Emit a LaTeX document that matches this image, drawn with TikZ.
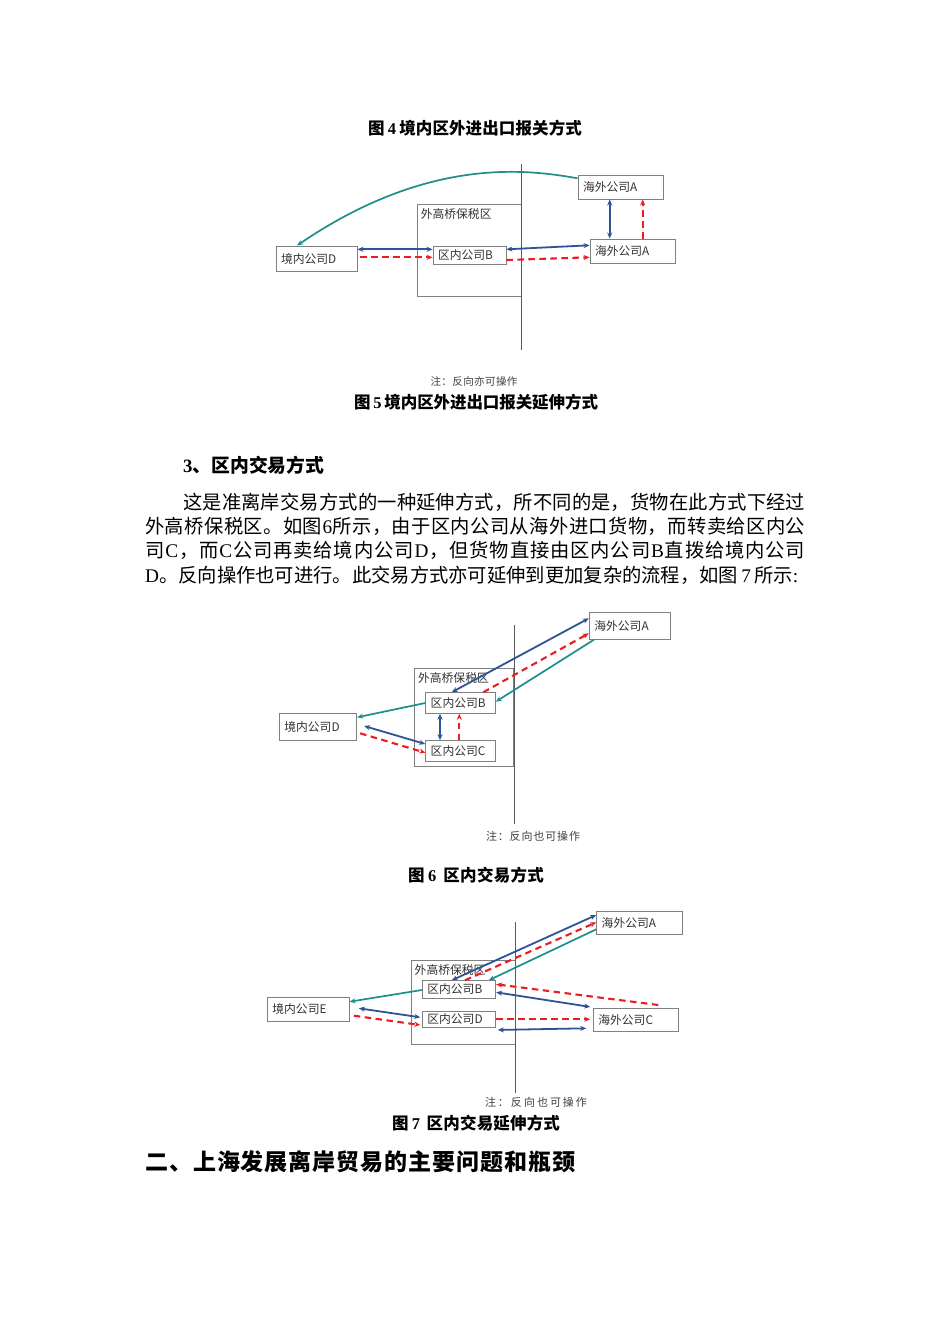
\documentclass[tikz,border=0pt]{standalone}
\usepackage{fontspec}
\setmainfont{Liberation Serif}
\newfontfamily\cjk{Noto Sans CJK SC}
\newfontfamily\lat{Liberation Serif}
\usetikzlibrary{arrows.meta}

\definecolor{linkblue}{RGB}{47,84,150}
\definecolor{linkteal}{RGB}{32,142,140}
\definecolor{linkred}{RGB}{237,28,36}
\definecolor{framegray}{RGB}{128,128,128}

\newcommand\txtbox{\cjk\fontsize{11.8}{13}\selectfont}
\newcommand\txtnote{\cjk\fontsize{10.5}{12}\selectfont}
\newcommand\txtcap{\cjk\bfseries\fontsize{16.5}{19}\selectfont}
\newcommand\txtbody{\cjk\fontsize{19.3}{24}\selectfont}
% spread a row of characters over a fixed width
\def\spreadA#1{\ifx\relax#1\else#1\hskip0pt plus 1fil minus 1fil\expandafter\spreadA\fi}
\newcommand\spreadline[2]{\hbox to #1{\spreadA#2\relax\unskip}}
\newcommand\tgap{\kern3pt}

\begin{document}
\begin{tikzpicture}[x=1pt, y=-1pt,
    firm/.style={draw=framegray, line width=0.9pt, inner xsep=5pt, inner ysep=0pt, align=left, font=\txtbox, text=black!80},
    zone/.style={draw=framegray, line width=0.9pt, inner sep=0pt},
    zonetitle/.style={anchor=north west, inner xsep=4pt, inner ysep=4.5pt, font=\txtbox, text=black!80},
    divider/.style={black!65, line width=0.9pt},
    deal/.style={linkblue, line width=1.8pt, {Stealth[length=6pt,width=5pt]}-{Stealth[length=6pt,width=5pt]}},
    cargo/.style={linkred, line width=2.1pt, dash pattern=on 6.5pt off 4.5pt, -{Stealth[length=6pt,width=5pt]}},
    fund/.style={linkteal, line width=1.7pt, -{Stealth[length=6pt,width=5pt]}},
    remark/.style={inner sep=0pt, font=\txtnote, text=black!75},
    figcap/.style={inner sep=0pt, font=\txtcap},
    bodytext/.style={anchor=west, inner sep=0pt, font=\txtbody}]
\path[use as bounding box, fill=white] (0,0) rectangle (950,1344);

\node (cap4)[figcap] at (475,128) {\spreadline{214pt}{图\tgap{{\lat\bfseries 4}}\tgap 境内区外进出口报关方式}};

% figure 5
\node (zone5)[zone, minimum width=104, minimum height=92] at (469,250) {};
\node (zone5t)[zonetitle] at (zone5.north west) {外高桥保税区};
\draw[divider] (521,164) -- (521,350);
\node (D5)[firm, text width=71pt, minimum height=25] at (316.5,258.5) {境内公司D};
\node (B5)[firm, text width=63pt, minimum height=18] at (469.5,255) {区内公司B};
\node (A5t)[firm, text width=75pt, minimum height=24] at (620.5,187) {海外公司A};
\node (A5b)[firm, text width=75pt, minimum height=24] at (632.5,251) {海外公司A};

\draw[deal] ([yshift=9.2pt]D5.east) -- ([yshift=5.7pt]B5.west);
\draw[cargo] ([xshift=3pt,yshift=1.2pt]D5.east) -- ([yshift=-2.3pt]B5.west);
\draw[deal] ([yshift=5.7pt]B5.east) -- ([yshift=5.7pt]A5b.west);
\draw[cargo] ([yshift=-5pt]B5.east) -- ([yshift=-6.3pt]A5b.west);
\draw[deal] ([xshift=-10.8pt]A5t.south) -- ([xshift=-22.8pt]A5b.north);
\draw[cargo] ([xshift=10.2pt]A5b.north) -- ([xshift=22.2pt]A5t.south);
\draw[fund] ([yshift=8.7pt]A5t.west) .. controls (530,170) and (430,155) .. ([xshift=-19.5pt]D5.north);

\node (note5)[remark] at (474,381) {\spreadline{87pt}{注：反向亦可操作}};
\node (cap5)[figcap] at (476,402) {\spreadline{244pt}{图\tgap{{\lat\bfseries 5}}\tgap 境内区外进出口报关延伸方式}};

% section text
\node (sec3)[bodytext, font=\cjk\bfseries\fontsize{18.8}{22}\selectfont] at (183,465) {{\lat\bfseries 3}、区内交易方式};
\node (par1)[bodytext] at (183,502) {\spreadline{622pt}{这是准离岸交易方式的一种延伸方式，所不同的是，货物在此方式下经过}};
\node (par2)[bodytext] at (145,526) {\spreadline{660pt}{外高桥保税区。如图{{\lat 6}}所示，由于区内公司从海外进口货物，而转卖给区内公}};
\node (par3)[bodytext] at (145,550) {\spreadline{660pt}{司{{\lat C}}，而{{\lat C}}公司再卖给境内公司{{\lat D}}，但货物直接由区内公司{{\lat B}}直拨给境内公司}};
\node (par4)[bodytext] at (145,575) {{\lat D}。反向操作也可进行。此交易方式亦可延伸到更加复杂的流程，如图{\lat\,7\,}所示{\lat :}};

% figure 6
\node (zone6)[zone, minimum width=99, minimum height=97.7] at (463.8,717.2) {};
\node (zone6t)[zonetitle] at (zone6.north west) {外高桥保税区};
\draw[divider] (514,625) -- (514,824);
\node (A6)[firm, text width=71.4pt, minimum height=27] at (630,625.8) {海外公司A};
\node (B6)[firm, text width=59.6pt, minimum height=20.6] at (460.5,703) {区内公司B};
\node (C6)[firm, text width=59.6pt, minimum height=20.6] at (460.5,751) {区内公司C};
\node (D6)[firm, text width=67.4pt, minimum height=26.7] at (318,726.7) {境内公司D};

\draw[deal] ([yshift=7.5pt]A6.west) -- ([xshift=-8.8pt]B6.north);
\draw[cargo] ([xshift=22.8pt]B6.north) -- ([yshift=-7.5pt]A6.west);
\draw[fund] ([xshift=5pt]A6.south west) -- ([yshift=1.3pt]B6.east);
\draw[fund] (B6.west) -- ([yshift=9.4pt]D6.east);
\draw[deal] ([xshift=7pt,yshift=0.7pt]D6.east) -- ([yshift=7pt]C6.west);
\draw[cargo] ([xshift=3pt,yshift=-6.6pt]D6.east) -- ([yshift=-1.7pt]C6.west);
\draw[deal] ([xshift=-20.5pt]B6.south) -- ([xshift=-20.5pt]C6.north);
\draw[cargo] ([xshift=-1.2pt]C6.north) -- ([xshift=-1.2pt]B6.south);

\node (note6)[remark, font=\cjk\fontsize{11}{12}\selectfont] at (533,836.7) {\spreadline{94pt}{注：反向也可操作}};
\node (cap6)[figcap] at (476,875) {\spreadline{136pt}{图\tgap{{\lat\bfseries 6}}\tgap\tgap 区内交易方式}};

% figure 7
\node (zone7)[zone, minimum width=104.7, minimum height=84] at (463.3,1002) {};
\node (zone7t)[zonetitle] at (zone7.north west) {外高桥保税区};
\draw[divider] (515.7,922.3) -- (515.7,1093.3);
\node (A7)[firm, text width=75.6pt, minimum height=22.6] at (639.5,923) {海外公司A};
\node (B7)[firm, text width=63.4pt, minimum height=17.6] at (459,989.5) {区内公司B};
\node (D7)[firm, text width=63.4pt, minimum height=16] at (459,1019.5) {区内公司D};
\node (E7)[firm, text width=71.7pt, minimum height=23.3] at (308.2,1009.3) {境内公司E};
\node (C7)[firm, text width=75pt, minimum height=22.7] at (635.8,1019.7) {海外公司C};
\coordinate (C7free) at (658.3,1005);

\draw[deal] ([xshift=-7.3pt]B7.north) -- ([yshift=8pt]A7.west);
\draw[cargo] ([xshift=6pt]B7.north) -- ([yshift=0.7pt]A7.west);
\draw[fund] ([yshift=-6.3pt]A7.west) -- ([xshift=-7.4pt]B7.north east);
\draw[cargo] (C7free) -- ([yshift=5.2pt]B7.east);
\draw[deal] ([yshift=-2.8pt]B7.east) -- ([xshift=-2.6pt,yshift=1pt]C7.north west);
\draw[cargo] ([yshift=0.2pt]D7.east) -- ([xshift=-2.6pt,yshift=0.4pt]C7.west);
\draw[deal] ([xshift=1.6pt,yshift=-2pt]D7.south east) -- ([xshift=-6.6pt,yshift=-8.6pt]C7.west);
\draw[fund] ([yshift=-0.5pt]B7.west) -- ([yshift=7.6pt]E7.east);
\draw[deal] ([xshift=9.3pt,yshift=1pt]E7.east) -- ([xshift=-1.6pt,yshift=2.2pt]D7.west);
\draw[cargo] ([xshift=4.3pt,yshift=-6.4pt]E7.east) -- ([xshift=-1.6pt,yshift=-5.5pt]D7.west);

\node (note7)[remark, font=\cjk\fontsize{11}{12}\selectfont] at (536,1102.3) {\spreadline{102pt}{注：反向也可操作}};
\node (cap7)[figcap] at (476,1123) {\spreadline{168pt}{图\tgap{{\lat\bfseries 7}}\tgap\tgap 区内交易延伸方式}};

\node (sec2)[bodytext, font=\cjk\bfseries\fontsize{23}{26}\selectfont] at (145,1162) {\spreadline{430pt}{二、上海发展离岸贸易的主要问题和瓶颈}};
\end{tikzpicture}
\end{document}
